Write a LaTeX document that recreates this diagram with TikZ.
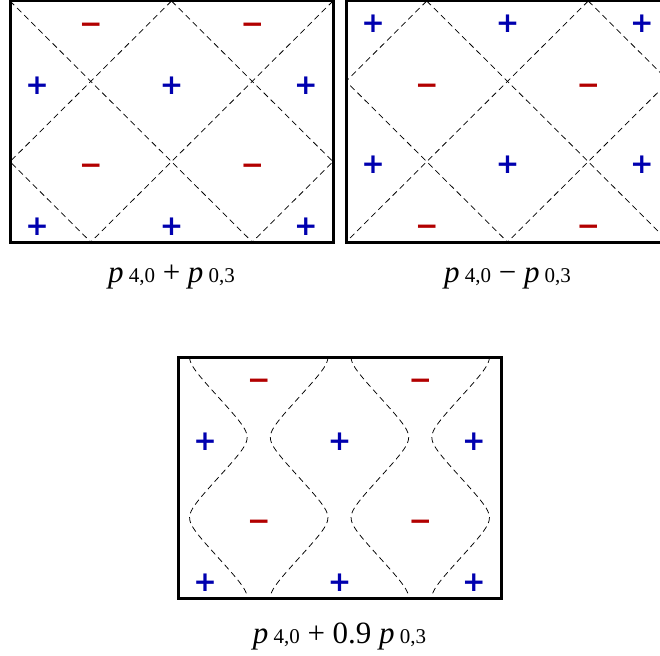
\documentclass[tikz,border=0pt]{standalone}
\usepackage{fontspec}
\setmainfont{Liberation Serif}
\newfontfamily\signfont{DejaVu Sans}
\definecolor{signblue}{RGB}{0,0,175}
\definecolor{signred}{RGB}{178,0,0}
\tikzset{
    % plate outline
    plate/.style={draw=black, line width=3pt},
    % nodal lines of the mode
    nodal/.style={black, line width=0.75pt, dash pattern=on 6pt off 4pt},
    % signs of the amplitude
    possign/.style={text=signblue, inner sep=0pt,
        font=\signfont\bfseries\fontsize{28}{28}\selectfont},
    negsign/.style={text=signred, inner sep=0pt, yshift=-4pt,
        font=\signfont\bfseries\fontsize{28}{28}\selectfont},
    % caption under each plate
    caption/.style={anchor=base, inner sep=0pt,
        font=\fontsize{31}{31}\selectfont},
}
% p with its two indices
\newcommand{\modep}[1]{\textit{p}\,{\fontsize{21}{21}\selectfont #1}}

\begin{document}
\begin{tikzpicture}[x=1pt,y=-1pt]
  \useasboundingbox (0,0) rectangle (660,655);

  % --- p40 + p03 ---
  \begin{scope}[shift={(10,1)},x=323pt,y=-241pt]
    \begin{scope}
      \clip (0,0) rectangle (1,1);
      \foreach \c in {-2,0,2}{\draw[nodal] ({\c/4},0) -- ({(\c+3)/4},1);}
      \foreach \c in {2,4,6}{\draw[nodal] ({\c/4},0) -- ({(\c-3)/4},1);}
    \end{scope}
    \draw[plate] (0,0) rectangle (1,1);
    \foreach \u [count=\i] in {0.084,0.5,0.916}{
      \foreach \v [count=\j] in {0.35,0.935}{\node[possign] (sp-\i-\j) at (\u,\v) {+};}}
    \foreach \u [count=\i] in {0.25,0.75}{
      \foreach \v [count=\j] in {0.095,0.68}{\node[negsign] (sm-\i-\j) at (\u,\v) {−};}}
    \node[caption] (capsum) at (0.5,1.168) {\modep{4,0} + \modep{0,3}};
  \end{scope}

  % --- p40 - p03 ---
  \begin{scope}[shift={(346,1)},x=323pt,y=-241pt]
    \begin{scope}
      \clip (0,0) rectangle (1,1);
      \foreach \c in {-1,1,3}{\draw[nodal] ({\c/4},0) -- ({(\c+3)/4},1);}
      \foreach \c in {1,3,5}{\draw[nodal] ({\c/4},0) -- ({(\c-3)/4},1);}
    \end{scope}
    \draw[plate] (0,0) rectangle (1,1);
    \foreach \u [count=\i] in {0.084,0.5,0.916}{
      \foreach \v [count=\j] in {0.095,0.68}{\node[possign] (dp-\i-\j) at (\u,\v) {+};}}
    \foreach \u [count=\i] in {0.25,0.75}{
      \foreach \v [count=\j] in {0.35,0.935}{\node[negsign] (dm-\i-\j) at (\u,\v) {−};}}
    \node[caption] (capdiff) at (0.5,1.168) {\modep{4,0} − \modep{0,3}};
  \end{scope}

  % --- p40 + 0.9 p03 ---
  \begin{scope}[shift={(178,357)},x=323pt,y=-241pt]
    \begin{scope}
      \clip (0,0) rectangle (1,1);
      \draw[nodal] plot[domain=0:1,samples=151] ({acos(0.9*cos(540*\x))/720},\x);
      \draw[nodal] plot[domain=0:1,samples=151] ({(360-acos(0.9*cos(540*\x)))/720},\x);
      \draw[nodal] plot[domain=0:1,samples=151] ({(360+acos(0.9*cos(540*\x)))/720},\x);
      \draw[nodal] plot[domain=0:1,samples=151] ({(720-acos(0.9*cos(540*\x)))/720},\x);
    \end{scope}
    \draw[plate] (0,0) rectangle (1,1);
    \foreach \u [count=\i] in {0.084,0.5,0.916}{
      \foreach \v [count=\j] in {0.35,0.935}{\node[possign] (mp-\i-\j) at (\u,\v) {+};}}
    \foreach \u [count=\i] in {0.25,0.75}{
      \foreach \v [count=\j] in {0.095,0.68}{\node[negsign] (mm-\i-\j) at (\u,\v) {−};}}
    \node[caption] (capmix) at (0.5,1.187) {\modep{4,0} + 0.9 \modep{0,3}};
  \end{scope}
\end{tikzpicture}
\end{document}
